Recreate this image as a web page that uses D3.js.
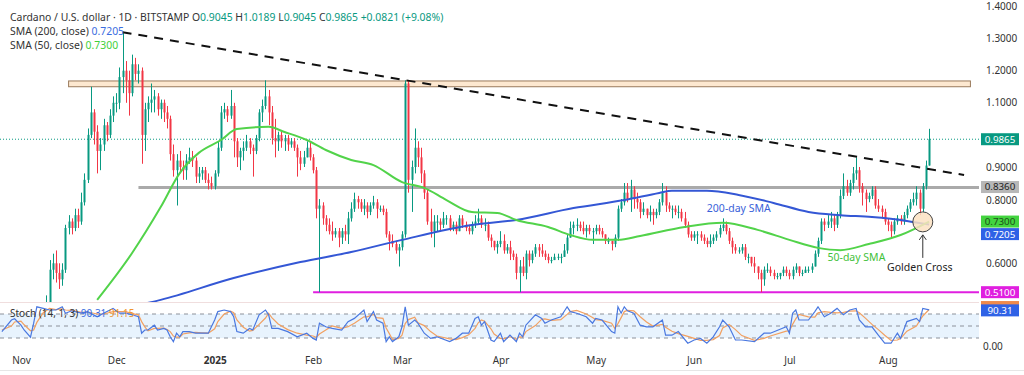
<!DOCTYPE html>
<meta charset="utf-8">
<head>
<style>
  body { margin: 0; background: #fff; }
  svg { display: block; font-family: "Noto Sans", sans-serif; }
</style>
</head>
<body>
<script src="https://d3js.org/d3.v7.min.js"></script>
<div id="plot"></div>
<script>

// daily candles from startDay, open = previous close
var startDay = "2024-11-06";
var firstOpen = 0.35;
var closeVals = [
  .36,.37,.40,.47,.58,.60,.57,.55,.58,.71,.73,.71,.75,.73,.79,.86,1.00,1.07,1.01,.95,.97,1.03,1.00,1.06,1.10,
  1.10,1.18,1.20,1.17,1.13,1.22,1.19,1.20,1.00,1.08,1.10,1.11,1.12,1.08,1.10,1.07,1.05,.94,.89,.92,.90,.89,.92,.93,.92,.87,.88,.89,.86,.85,.84,
  .88,.96,1.07,1.08,1.06,1.09,.98,.93,.95,.96,.98,.96,.95,.99,1.07,1.09,1.12,1.07,.99,.98,1.00,.98,.99,.97,.98,.96,.93,.91,.93,.96,.93,
  .89,.77,.78,.74,.72,.70,.69,.70,.68,.70,.69,.74,.77,.80,.79,.77,.78,.76,.78,.79,.77,.77,.76,.69,.67,.66,.64,.65,
  .69,1.16,.86,.90,.96,.93,.88,.82,.73,.70,.73,.73,.72,.74,.74,.71,.72,.70,.74,.72,.71,.70,.72,.73,.74,.72,.72,.68,.67,.65,.66,
  .67,.64,.65,.63,.62,.57,.59,.57,.63,.61,.63,.65,.64,.63,.62,.61,.61,.62,.62,.62,.64,.68,.71,.72,.72,.71,.70,.71,.70,.70,
  .71,.70,.69,.67,.67,.66,.68,.77,.79,.82,.80,.83,.80,.79,.76,.77,.75,.76,.75,.76,.79,.82,.78,.77,.77,.76,.76,.74,.72,.69,.68,
  .69,.69,.68,.67,.66,.67,.68,.69,.71,.72,.70,.67,.65,.64,.64,.65,.62,.62,.60,.59,.57,.55,.58,.58,.57,.56,.56,.57,.58,.57,
  .56,.58,.59,.57,.57,.58,.58,.59,.63,.67,.73,.72,.73,.74,.72,.75,.81,.84,.82,.85,.88,.89,.84,.82,.80,.81,.83,.78,.77,.76,.73,
  .72,.70,.73,.74,.73,.75,.77,.79,.80,.82,.77,.84,.9045,.9865
];
var highVals = [
  .37,.38,.41,.50,.61,.63,.64,.60,.60,.72,.75,.74,.77,.77,.82,.88,1.02,1.15,1.08,1.03,.99,1.05,1.04,1.08,1.12,
  1.13,1.21,1.32,1.23,1.20,1.25,1.24,1.22,1.21,1.10,1.12,1.16,1.14,1.13,1.11,1.11,1.09,1.06,.97,.94,.95,.92,.94,.96,.95,.93,.90,.90,.90,.88,.87,
  .89,.98,1.09,1.10,1.09,1.14,1.10,.99,.96,.98,1.00,.99,.97,1.00,1.08,1.11,1.17,1.14,1.09,1.05,1.01,1.01,1.00,1.00,.99,.99,.97,.95,.95,.98,.98,
  .94,.90,.80,.79,.75,.74,.73,.71,.71,.71,.72,.76,.79,.82,.81,.80,.80,.79,.79,.81,.80,.78,.78,.77,.70,.69,.67,.66,
  .70,1.17,1.17,.92,1.02,.98,.96,.89,.83,.77,.75,.75,.74,.76,.75,.75,.73,.73,.75,.75,.73,.72,.73,.75,.77,.75,.74,.73,.69,.67,.67,
  .70,.69,.66,.67,.64,.63,.61,.62,.64,.64,.64,.66,.66,.66,.64,.63,.62,.63,.63,.63,.66,.69,.73,.73,.74,.73,.73,.72,.72,.71,
  .72,.72,.71,.69,.68,.67,.69,.78,.80,.85,.85,.86,.84,.82,.80,.79,.77,.78,.77,.77,.80,.85,.84,.79,.78,.78,.78,.77,.76,.73,.70,
  .70,.70,.70,.69,.68,.69,.69,.70,.72,.74,.73,.71,.68,.66,.65,.66,.66,.63,.62,.62,.59,.58,.59,.60,.59,.58,.57,.57,.59,.59,
  .58,.59,.60,.59,.58,.59,.59,.60,.64,.68,.74,.74,.75,.76,.75,.76,.83,.88,.86,.86,.90,.93,.90,.85,.83,.82,.84,.84,.80,.78,.77,
  .74,.73,.74,.75,.75,.76,.78,.80,.82,.84,.83,.85,.92,1.0189
];
var lowVals = [
  .34,.35,.36,.39,.46,.55,.54,.52,.53,.57,.69,.69,.70,.71,.72,.78,.85,.99,.97,.88,.89,.95,.98,.99,1.04,
  1.07,1.08,1.13,1.10,1.06,1.12,1.17,1.16,.91,.95,1.04,1.07,1.07,1.06,1.05,1.04,1.02,.92,.87,.78,.88,.86,.86,.91,.90,.85,.85,.86,.85,.83,.83,
  .83,.87,.95,1.05,1.04,1.05,.93,.90,.89,.92,.95,.94,.87,.94,.98,1.04,1.08,1.03,.97,.93,.95,.96,.95,.95,.96,.95,.87,.89,.90,.93,.92,
  .88,.74,.51,.72,.70,.69,.67,.68,.65,.66,.67,.66,.73,.76,.77,.76,.75,.74,.75,.77,.74,.76,.75,.68,.64,.65,.63,.59,
  .64,.68,.82,.76,.88,.90,.85,.80,.72,.68,.65,.70,.70,.71,.72,.70,.70,.69,.70,.71,.70,.69,.69,.71,.72,.71,.70,.67,.65,.64,.63,
  .65,.63,.63,.61,.61,.55,.51,.56,.55,.59,.60,.62,.62,.62,.61,.60,.60,.61,.61,.60,.62,.63,.68,.69,.70,.70,.69,.68,.69,.66,
  .69,.69,.68,.66,.66,.64,.65,.67,.76,.78,.79,.76,.77,.77,.74,.75,.74,.73,.72,.74,.75,.78,.76,.76,.74,.75,.74,.73,.71,.68,.67,
  .67,.66,.67,.66,.65,.65,.66,.67,.68,.70,.69,.66,.63,.63,.63,.63,.61,.60,.59,.57,.55,.51,.53,.57,.56,.55,.55,.55,.56,.56,
  .55,.55,.57,.56,.56,.57,.57,.57,.59,.62,.66,.70,.71,.71,.70,.71,.74,.80,.81,.81,.83,.86,.82,.78,.76,.79,.80,.77,.76,.74,.72,
  .70,.68,.69,.72,.72,.72,.74,.76,.78,.78,.75,.76,.83,.9045
];
var lastChange = "+0.0821", lastChangePct = "+9.08%";

// moving averages (days after 2024-11-01)
var sma200Days = [37,44,67,88,104,120,142,156,174,190,201,205,216,226,237,248,258,268,279,286];
var sma200Vals = [0.470,0.486,0.554,0.604,0.635,0.673,0.719,0.735,0.772,0.797,0.819,0.826,0.826,0.813,0.788,0.760,0.750,0.744,0.732,0.7205];
var sma50Days = [24,35,44,50,56,63,68,78,83,90,96,104,111,120,127,134,142,150,156,166,173,180,188,195,209,221,232,242,251,258,267,277,286];
var sma50Vals = [0.486,0.632,0.775,0.881,0.944,0.984,1.018,1.025,1.009,0.984,0.953,0.922,0.906,0.853,0.835,0.797,0.760,0.757,0.735,0.713,0.688,0.673,0.673,0.685,0.713,0.726,0.704,0.673,0.648,0.641,0.660,0.688,0.730];

// stochastic %K and %D (days after 2024-11-01)
var stochDays = [-6,-3,-2,0,1,3,4,5,7,9,11,13,14,16,19,21,24,26,29,31,33,35,37,38,39,40,42,43,45,46,
  47,48,49,50,51,53,55,57,59,61,62,64,66,67,68,70,72,73,75,77,78,79,81,84,87,90,92,93,94,96,
  98,101,103,105,108,109,111,112,114,115,116,117,119,120,121,122,124,125,127,129,131,135,137,139,141,143,144,145,146,148,
  149,151,152,154,156,157,158,159,162,164,165,167,170,172,173,175,178,180,181,183,186,187,188,189,190,191,193,195,197,199,
  202,203,205,207,210,212,214,216,218,220,221,223,225,227,231,234,236,241,242,243,244,245,248,250,251,253,255,257,259,261,
  263,264,266,268,270,272,274,276,277,279,282,283,284,286];
var stochK = [36,65,68,52,40,22,57,98,94,90,90,98,82,88,82,86,73,82,94,82,82,78,73,32,40,40,52,40,44,40,
  23,11,32,23,36,36,32,32,32,65,86,90,86,73,36,32,44,40,78,90,78,44,44,36,23,32,19,15,57,48,
  44,40,61,69,90,61,86,65,57,11,23,11,23,48,98,52,65,57,32,19,23,11,19,32,32,69,73,52,61,15,
  11,32,11,27,11,32,23,52,78,69,57,65,73,98,86,82,73,57,69,65,36,32,98,82,98,88,82,52,48,48,
  65,27,27,36,7,15,19,7,23,48,65,48,15,15,11,32,32,48,32,82,90,65,65,86,98,73,82,94,78,90,
  94,65,48,48,27,7,7,32,19,61,69,61,94,90.31];
var stochD = [40,50,60,62,53,38,40,59,83,94,91,93,90,89,84,85,80,80,86,86,86,81,78,61,48,38,44,44,45,41,
  36,25,22,22,30,33,34,33,32,43,61,80,87,83,65,47,37,39,54,70,82,71,55,41,32,27,25,22,30,40,
  50,44,48,57,73,73,79,71,69,45,31,16,19,27,56,66,72,58,51,36,25,18,16,21,28,44,58,65,62,43,
  30,19,18,23,17,23,22,36,51,67,68,64,66,79,86,89,80,71,66,64,57,44,56,71,86,89,88,73,60,50,
  54,47,37,31,24,19,14,14,16,26,45,54,41,26,14,19,25,37,38,54,68,79,73,72,83,86,84,83,84,87,
  88,83,69,54,41,27,14,15,19,37,50,63,75,91.15];

// axis labels not hidden behind the tags
var priceTicks = [0.6,0.8,0.9,1.1,1.2,1.3,1.4];
var monthTicks = ["2024-11-01","2024-12-01","2025-01-01","2025-02-01","2025-03-01","2025-04-01","2025-05-01","2025-06-01","2025-07-01","2025-08-01"];
var monthLabels = ["Nov","Dec","2025","Feb","Mar","Apr","May","Jun","Jul","Aug"];

// drawn levels
var zoneLevels = [1.150, 1.168], zoneFrom = "2024-11-16", zoneTo = "2025-08-27";
var supportLevel = 0.836, supportFrom = "2024-12-08";
var floorLevel = 0.51, floorFrom = "2025-02-01";
var trendFrom = ["2024-12-03", 1.32], trendTo = ["2025-08-25", 0.875];
var crossDate = "2025-08-12", crossValue = 0.729;
var lastClose = 0.9865, lastSma200 = 0.7205, lastSma50 = 0.7300;

var width = 1024, height = 375;
var plotRight = 979, priceBottom = 302;

var baseDay = Date.UTC(2024, 10, 1);
function dayDate(n) { return new Date(baseDay + n * 864e5); }
function parseDay(s) { return new Date(s + "T00:00:00Z"); }

var x = d3.scaleUtc().domain([dayDate(-6.6), dayDate(301.7)]).range([0, plotRight]);
var y = d3.scaleLinear().domain([0.4794, 1.4202]).range([priceBottom, 0]);
var ys = d3.scaleLinear().domain([0, 100]).range([346, 306]);

var upColor = "#089981", downColor = "#f23645";
var blue = "#3457d5", green = "#52d34a";

var svg = d3.select("#plot").append("svg")
    .attr("width", width)
    .attr("height", height);

svg.append("defs").append("clipPath").attr("id", "pane")
  .append("rect").attr("x", 0).attr("y", 0).attr("width", plotRight).attr("height", priceBottom);

var pane = svg.append("g").attr("clip-path", "url(#pane)");

// resistance zone
pane.append("rect")
    .attr("x", x(parseDay(zoneFrom)))
    .attr("y", y(zoneLevels[1]))
    .attr("width", x(parseDay(zoneTo)) - x(parseDay(zoneFrom)))
    .attr("height", y(zoneLevels[0]) - y(zoneLevels[1]))
    .attr("fill", "#fde8d0")
    .attr("stroke", "#9a7a5c")
    .attr("stroke-width", 1);

// support and floor
pane.append("line")
    .attr("x1", x(parseDay(supportFrom))).attr("x2", plotRight)
    .attr("y1", y(supportLevel)).attr("y2", y(supportLevel))
    .attr("stroke", "#aaaaaa").attr("stroke-width", 3);

pane.append("line")
    .attr("x1", x(parseDay(floorFrom))).attr("x2", plotRight)
    .attr("y1", y(floorLevel)).attr("y2", y(floorLevel))
    .attr("stroke", "#e01fe0").attr("stroke-width", 2);

// last price line
pane.append("line")
    .attr("x1", 0).attr("x2", plotRight)
    .attr("y1", y(lastClose)).attr("y2", y(lastClose))
    .attr("stroke", upColor).attr("stroke-width", 1).attr("stroke-dasharray", "1,2");

// candles
var start = parseDay(startDay);
var candles = closeVals.map(function(c, i) {
  return {
    date: new Date(start.getTime() + i * 864e5),
    open: i == 0 ? firstOpen : closeVals[i - 1],
    close: c, high: highVals[i], low: lowVals[i]
  };
});

var cg = pane.append("g");
cg.selectAll("line").data(candles).enter().append("line")
    .attr("x1", function(d) { return Math.round(x(d.date)) + 0.5; })
    .attr("x2", function(d) { return Math.round(x(d.date)) + 0.5; })
    .attr("y1", function(d) { return y(d.high); })
    .attr("y2", function(d) { return y(d.low); })
    .attr("stroke", function(d) { return d.close >= d.open ? upColor : downColor; })
    .attr("stroke-width", 1);

cg.selectAll("rect").data(candles).enter().append("rect")
    .attr("x", function(d) { return Math.round(x(d.date)) - 0.5; })
    .attr("width", 2)
    .attr("y", function(d) { return y(Math.max(d.open, d.close)); })
    .attr("height", function(d) { return Math.max(1, Math.abs(y(d.open) - y(d.close))); })
    .attr("fill", function(d) { return d.close >= d.open ? upColor : downColor; });

// SMA lines
var smaLine = d3.line()
    .x(function(m) { return x(dayDate(m[0])); })
    .y(function(m) { return y(m[1]); })
    .curve(d3.curveMonotoneX);

pane.append("path")
    .datum(d3.zip(sma200Days, sma200Vals))
    .attr("fill", "none").attr("stroke", blue).attr("stroke-width", 2)
    .attr("d", smaLine);

pane.append("path")
    .datum(d3.zip(sma50Days, sma50Vals))
    .attr("fill", "none").attr("stroke", green).attr("stroke-width", 2)
    .attr("d", smaLine);

// falling trend line
pane.append("line")
    .attr("x1", x(parseDay(trendFrom[0]))).attr("y1", y(trendFrom[1]))
    .attr("x2", x(parseDay(trendTo[0]))).attr("y2", y(trendTo[1]))
    .attr("stroke", "#111").attr("stroke-width", 2).attr("stroke-dasharray", "9,7");

// golden cross marker
var cx = x(parseDay(crossDate)), cy = y(crossValue);
svg.append("circle")
    .attr("cx", cx).attr("cy", cy).attr("r", 10)
    .attr("fill", "#fbe2c2").attr("fill-opacity", 0.85)
    .attr("stroke", "#444").attr("stroke-width", 1);
svg.append("line")
    .attr("x1", cx).attr("x2", cx).attr("y1", cy + 13).attr("y2", cy + 36)
    .attr("stroke", "#333").attr("stroke-width", 1);
svg.append("path")
    .attr("d", "M" + (cx - 3.5) + "," + (cy + 18) + "L" + cx + "," + (cy + 13) + "L" + (cx + 3.5) + "," + (cy + 18))
    .attr("fill", "none").attr("stroke", "#333").attr("stroke-width", 1);
svg.append("text")
    .attr("x", cx - 3).attr("y", cy + 45).attr("dy", "0.35em")
    .attr("text-anchor", "middle").attr("font-size", 10.5).attr("fill", "#222")
    .text("Golden Cross");

svg.append("text")
    .attr("x", x(parseDay("2025-06-05"))).attr("y", y(0.772)).attr("dy", "0.35em")
    .attr("font-size", 10.5).attr("fill", "#3a62d9").text("200-day SMA");
svg.append("text")
    .attr("x", x(parseDay("2025-07-13"))).attr("y", y(0.62)).attr("dy", "0.35em")
    .attr("font-size", 10.5).attr("fill", "#3fc13a").text("50-day SMA");

// stochastic pane
svg.append("line")
    .attr("x1", 0).attr("x2", plotRight).attr("y1", priceBottom + 0.5).attr("y2", priceBottom + 0.5)
    .attr("stroke", "#f0dede");

svg.append("rect")
    .attr("x", 0).attr("width", plotRight)
    .attr("y", ys(80)).attr("height", ys(20) - ys(80))
    .attr("fill", "#e8f3fd");

[80, 50, 20].forEach(function(v) {
  svg.append("line")
      .attr("x1", 0).attr("x2", plotRight).attr("y1", ys(v)).attr("y2", ys(v))
      .attr("stroke", "#8c919a").attr("stroke-dasharray", "4,4");
});

var stochLine = d3.line()
    .x(function(m) { return x(dayDate(m[0])); })
    .y(function(m) { return ys(m[1]); });

svg.append("path")
    .datum(d3.zip(stochDays, stochD))
    .attr("fill", "none").attr("stroke", "#f2a061").attr("stroke-width", 1.2)
    .attr("d", stochLine);
svg.append("path")
    .datum(d3.zip(stochDays, stochK))
    .attr("fill", "none").attr("stroke", "#4a78e0").attr("stroke-width", 1.2)
    .attr("d", stochLine);

var st = svg.append("text").attr("x", 10).attr("y", 313).attr("dy", "0.35em")
    .attr("font-size", 10).attr("fill", "#333");
st.append("tspan").text("Stoch (14, 1, 3) ");
st.append("tspan").attr("fill", "#3b6de0").text(d3.format(".2f")(stochK[stochK.length - 1]) + " ");
st.append("tspan").attr("fill", "#f0952f").text(d3.format(".2f")(stochD[stochD.length - 1]));

// legend
var fs = 10.4;
var lg = svg.append("text").attr("x", 10).attr("y", 17).attr("dy", "0.35em")
    .attr("font-size", fs).attr("fill", "#333");
var last = candles[candles.length - 1];
lg.append("tspan").text("Cardano / U.S. dollar · 1D · BITSTAMP  O");
lg.append("tspan").attr("fill", upColor).text(d3.format(".4f")(last.open));
lg.append("tspan").text("  H");
lg.append("tspan").attr("fill", upColor).text(d3.format(".4f")(last.high));
lg.append("tspan").text("  L");
lg.append("tspan").attr("fill", upColor).text(d3.format(".4f")(last.low));
lg.append("tspan").text("  C");
lg.append("tspan").attr("fill", upColor)
    .text(d3.format(".4f")(last.close) + "  " + lastChange + " (" + lastChangePct + ")");

var l2 = svg.append("text").attr("x", 10).attr("y", 31).attr("dy", "0.35em")
    .attr("font-size", fs).attr("fill", "#333");
l2.append("tspan").text("SMA (200, close)  ");
l2.append("tspan").attr("fill", "#3b6de0").text(d3.format(".4f")(lastSma200));
var l3 = svg.append("text").attr("x", 10).attr("y", 45).attr("dy", "0.35em")
    .attr("font-size", fs).attr("fill", "#333");
l3.append("tspan").text("SMA (50, close)  ");
l3.append("tspan").attr("fill", "#3fcf3a").text(d3.format(".4f")(lastSma50));

// right axis
var yAxis = svg.append("g")
    .attr("transform", "translate(" + (plotRight + 4) + ",0)")
    .call(d3.axisRight(y).tickValues(priceTicks).tickFormat(d3.format(".4f")).tickSize(0));
yAxis.select(".domain").remove();
yAxis.selectAll("text").attr("font-size", 10).attr("fill", "#333").attr("font-family", "Noto Sans")
    .attr("dy", function(d) { return d == 0.8 ? "0.45em" : "0.32em"; });

svg.append("text").attr("x", plotRight + 4).attr("y", ys(0)).attr("dy", "0.35em")
    .attr("font-size", 10).attr("fill", "#333").text("0.00");

// price tags
function tag(cy, txt, fill, color) {
  svg.append("rect").attr("x", plotRight + 2).attr("y", cy - 6)
      .attr("width", 38).attr("height", 12).attr("fill", fill);
  if (txt) {
    svg.append("text").attr("x", plotRight + 21).attr("y", cy).attr("dy", "0.35em")
        .attr("text-anchor", "middle").attr("font-size", 9.8).attr("fill", color).text(txt);
  }
}
tag(y(lastClose), d3.format(".4f")(lastClose), upColor, "#fff");
tag(y(supportLevel) - 0.5, d3.format(".4f")(supportLevel), "#b7b7b7", "#222");
tag(y(lastSma50), d3.format(".4f")(lastSma50), "#43d43f", "#1d4d1a");
tag(y(lastSma200) + 9.5, d3.format(".4f")(lastSma200), "#2f62e6", "#fff");
tag(y(floorLevel), d3.format(".4f")(floorLevel), "#e01fe0", "#fff");
tag(ys(stochD[stochD.length - 1]) - 2.5, "", "#f08a4b", "#fff");
tag(ys(stochK[stochK.length - 1]) + 0.5, d3.format(".2f")(stochK[stochK.length - 1]), "#2f62e6", "#fff");

// time axis
var xAxis = svg.append("g")
    .attr("transform", "translate(0,354)")
    .call(d3.axisBottom(x).tickValues(monthTicks.map(parseDay)).tickSize(0)
      .tickFormat(function(d, i) { return monthLabels[i]; }));
xAxis.select(".domain").remove();
xAxis.selectAll("text").attr("font-size", 10).attr("fill", "#333").attr("font-family", "Noto Sans")
    .attr("font-weight", function(d, i) { return monthLabels[i] == "2025" ? "bold" : null; });

svg.append("line").attr("x1", 0).attr("x2", width).attr("y1", 370.5).attr("y2", 370.5)
    .attr("stroke", "#e6e6e6");

</script>
</body>
